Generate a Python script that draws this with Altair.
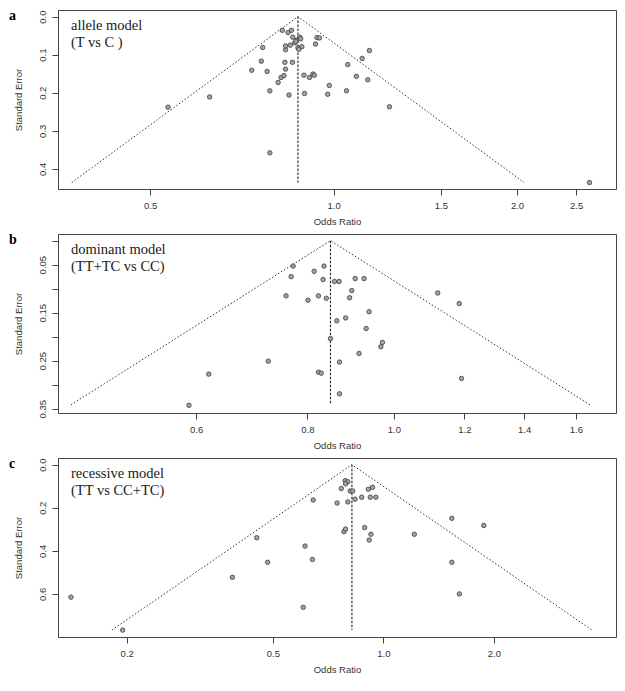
import altair as alt
import numpy as np
import pandas as pd

# ---------------- Panel a: allele model ----------------
a_or = [0.535, 0.626, 0.734, 0.761, 0.765, 0.778, 0.786, 0.786, 0.811, 0.820,
        0.824, 0.829, 0.832, 0.834, 0.834, 0.834, 0.842, 0.845, 0.849, 0.853,
        0.856, 0.857, 0.863, 0.870, 0.874, 0.880, 0.883, 0.887, 0.894, 0.896,
        0.913, 0.925, 0.930, 0.934, 0.939, 0.948, 0.978, 0.984, 1.050, 1.055,
        1.090, 1.114, 1.138, 1.145, 1.235, 2.630, 0.867, 0.877]
a_se = [0.238, 0.211, 0.141, 0.117, 0.081, 0.144, 0.195, 0.358, 0.173, 0.160,
        0.036, 0.155, 0.120, 0.138, 0.087, 0.077, 0.042, 0.206, 0.075, 0.036,
        0.120, 0.054, 0.069, 0.062, 0.082, 0.054, 0.058, 0.079, 0.154, 0.202,
        0.160, 0.151, 0.154, 0.072, 0.055, 0.056, 0.204, 0.181, 0.195, 0.126,
        0.157, 0.110, 0.166, 0.089, 0.237, 0.436, 0.065, 0.086]
a_pool = 0.874
a_semax = 0.436
a_xdomain = [0.353, 2.907]
a_ydomain = [-0.0174, 0.453]
a_xticks = [0.5, 1.0, 1.5, 2.0, 2.5]
a_yticks = [0.0, 0.1, 0.2, 0.3, 0.4]
a_text = ["allele model", "(T vs C )"]

# ---------------- Panel b: dominant model ----------------
b_or = [0.771, 0.767, 0.757, 0.801, 0.814, 0.823, 0.723, 0.620, 0.589, 0.835,
        0.833, 0.840, 0.858, 0.868, 0.905, 0.926, 0.897, 0.892, 1.120, 1.184,
        0.938, 0.883, 0.863, 0.931, 0.849, 0.971, 0.967, 0.914, 0.869, 0.823,
        0.829, 1.191, 0.869]
b_se = [0.053, 0.075, 0.115, 0.124, 0.064, 0.115, 0.251, 0.278, 0.343, 0.053,
        0.081, 0.120, 0.085, 0.085, 0.079, 0.079, 0.104, 0.119, 0.109, 0.131,
        0.148, 0.161, 0.167, 0.183, 0.204, 0.212, 0.221, 0.235, 0.253, 0.274,
        0.276, 0.287, 0.319]
b_pool = 0.849
b_semax = 0.342
b_xdomain = [0.420, 1.775]
b_ydomain = [-0.0138, 0.359]
b_xticks = [0.6, 0.8, 1.0, 1.2, 1.4, 1.6]
b_yticks = [0.0, 0.05, 0.10, 0.15, 0.20, 0.25, 0.30, 0.35]
b_text = ["dominant model", "(TT+TC vs CC)"]

# ---------------- Panel c: recessive model ----------------
c_or = [0.141, 0.195, 0.388, 0.452, 0.484, 0.644, 0.612, 0.641, 0.605, 0.787,
        0.800, 0.789, 0.768, 0.812, 0.825, 0.748, 0.800, 0.837, 0.873, 0.910,
        0.934, 0.921, 0.954, 0.781, 0.789, 0.889, 0.925, 0.915, 1.214, 1.536,
        1.877, 1.536, 1.611]
c_se = [0.615, 0.768, 0.523, 0.339, 0.453, 0.164, 0.378, 0.440, 0.662, 0.074,
        0.079, 0.089, 0.111, 0.122, 0.122, 0.178, 0.173, 0.160, 0.151, 0.114,
        0.105, 0.151, 0.151, 0.311, 0.299, 0.292, 0.323, 0.350, 0.323, 0.249,
        0.282, 0.453, 0.600]
c_pool = 0.821
c_semax = 0.768
c_xdomain = [0.130, 4.30]
c_ydomain = [-0.031, 0.80]
c_xticks = [0.2, 0.5, 1.0, 2.0]
c_yticks = [0.0, 0.2, 0.4, 0.6]
c_text = ["recessive model", "(TT vs CC+TC)"]

W = 558
H = 179


def panel(letter, or_vals, se_vals, pool, semax, xdom, ydom, xticks, yticks,
          ylabel_expr, lines):
    pts = pd.DataFrame({"or": or_vals, "se": se_vals})
    lo = pool * np.exp(-1.96 * semax)
    hi = pool * np.exp(1.96 * semax)
    funnel = pd.DataFrame({"or": [lo, pool, hi], "se": [semax, 0.0, semax],
                           "o": [0, 1, 2]})
    vline = pd.DataFrame({"or": [pool], "se": [0.0], "se2": [semax]})

    xs = alt.Scale(type="log", domain=xdom, nice=False)
    ys = alt.Scale(domain=ydom, reverse=True, nice=False, zero=False)
    xax = alt.Axis(values=xticks, format=".1f", title="Odds Ratio",
                   titleY=32, titleBaseline="middle", labelFlush=False)
    yax = alt.Axis(values=yticks, labelExpr=ylabel_expr, title="Standard Error",
                   titleX=-40, titleBaseline="middle", labelAngle=-90,
                   labelAlign="center", labelBaseline="bottom")
    X = alt.X("or:Q", scale=xs, axis=xax)
    Y = alt.Y("se:Q", scale=ys, axis=yax)

    funnel_l = alt.Chart(funnel).mark_line(
        strokeDash=[1.5, 2], color="#333333", strokeWidth=1
    ).encode(x=X, y=Y, order="o:Q")
    vrule = alt.Chart(vline).mark_rule(
        strokeDash=[2.5, 1.5], color="#333333", strokeWidth=1.2
    ).encode(x=X, y=Y, y2="se2:Q")
    points = alt.Chart(pts).mark_circle(
        size=20, fill="#a3a3a3", stroke="#3c3c3c", strokeWidth=0.8, opacity=1
    ).encode(x=X, y=Y)

    t1 = alt.Chart(pd.DataFrame({"t": [lines[0]]})).mark_text(
        align="left", baseline="alphabetic", font="Liberation Serif",
        fontSize=14.5, color="#1a1a1a"
    ).encode(x=alt.value(13), y=alt.value(19.5), text="t:N")
    t2 = alt.Chart(pd.DataFrame({"t": [lines[1]]})).mark_text(
        align="left", baseline="alphabetic", font="Liberation Serif",
        fontSize=14.5, color="#1a1a1a"
    ).encode(x=alt.value(13), y=alt.value(36.5), text="t:N")
    lab = alt.Chart(pd.DataFrame({"t": [letter]})).mark_text(
        align="left", baseline="alphabetic", font="Liberation Serif",
        fontSize=14, fontWeight="bold", color="#000000"
    ).encode(x=alt.value(-49), y=alt.value(10), text="t:N")

    return alt.layer(funnel_l, vrule, points, t1, t2, lab).properties(
        width=W, height=H)


pa = panel("a", a_or, a_se, a_pool, a_semax, a_xdomain, a_ydomain, a_xticks,
           a_yticks, "format(datum.value, '.1f')", a_text)
pb = panel("b", b_or, b_se, b_pool, b_semax, b_xdomain, b_ydomain, b_xticks,
           b_yticks,
           "(round(datum.value*100) % 10 == 5) ? format(datum.value, '.2f') : ''",
           b_text)
pc = panel("c", c_or, c_se, c_pool, c_semax, c_xdomain, c_ydomain, c_xticks,
           c_yticks, "format(datum.value, '.1f')", c_text)

chart = alt.vconcat(pa, pb, pc, spacing=45, bounds="flush").properties(
    padding={"left": 0, "top": 0, "right": 0, "bottom": 0}
).configure_view(
    stroke="#444444", strokeWidth=1
).configure_axis(
    domain=False, grid=False, ticks=True, tickColor="#444444", tickSize=6,
    labelFont="Liberation Sans", labelFontSize=9.5, labelColor="#333333",
    labelPadding=5, titleFont="Liberation Sans", titleFontSize=9.5,
    titleFontWeight="normal", titleColor="#333333"
)

chart.save("out.html", embed_options={"renderer": "svg", "actions": False})
